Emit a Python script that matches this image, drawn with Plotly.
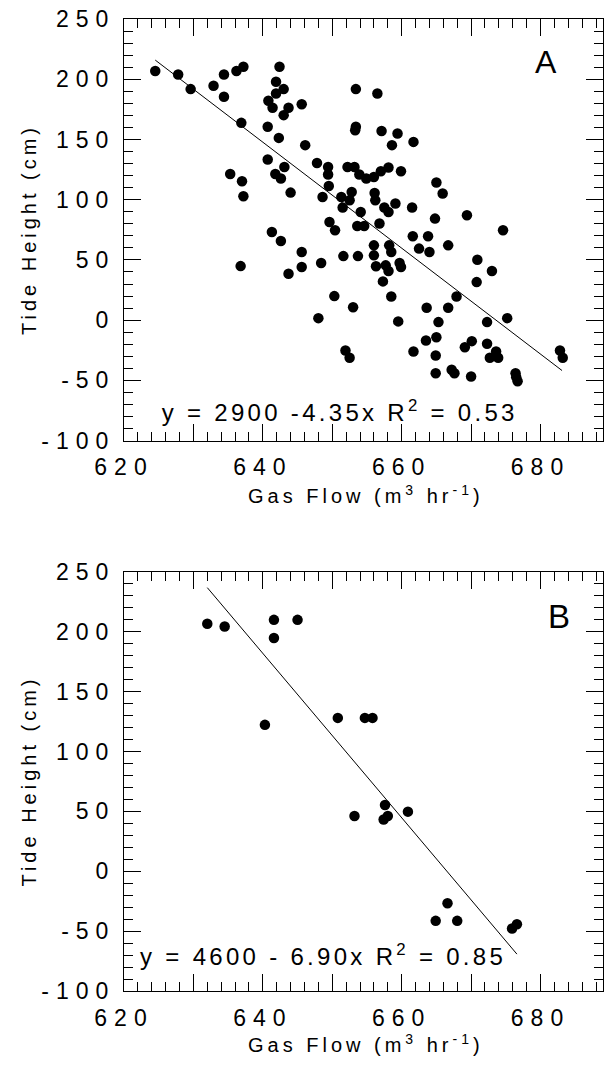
import plotly.graph_objects as go

# ---------------- data ----------------
a_x = [624.5, 627.8, 629.6, 632.9, 634.4, 634.4, 636.2, 637.2, 642.4, 641.9,
       643.0, 641.9, 640.8, 641.4, 643.7, 643.0, 645.6, 636.9, 640.7, 642.3,
       646.1, 653.4, 653.4, 653.3, 640.7, 635.3, 637.0, 637.2, 641.8, 643.1,
       642.6, 644.0, 647.8, 649.4, 649.4, 649.5, 648.6, 652.2, 653.2, 653.9,
       654.9, 651.3, 652.8, 652.5, 651.5, 654.1, 653.6, 654.6, 649.6, 650.4,
       641.3,
       656.5, 657.1, 659.4, 658.6, 661.7, 656.0, 657.0, 658.1, 659.9, 665.0,
       665.9, 656.1, 656.2, 657.5, 658.1, 659.1, 661.5, 664.8, 669.4, 656.8,
       661.6, 663.8, 674.6,
       642.6, 645.6, 636.8, 643.7, 645.6, 648.4, 651.6, 653.7, 650.3, 653.0,
       648.0, 651.9, 652.5,
       662.5, 664.0, 666.7, 656.0, 658.2, 656.0, 658.5, 656.3, 657.7, 658.1,
       659.7, 659.9, 657.3, 658.5, 670.9, 673.0, 670.8, 667.9, 663.6, 666.7,
       665.3, 659.5, 672.3, 675.2, 663.5, 665.0, 661.7, 664.9, 669.1, 670.1,
       672.3, 673.6, 672.7, 673.9, 664.9, 667.2, 667.6, 670.0, 676.4, 676.5,
       676.7, 682.8, 683.2]
a_y = [206.8, 204.0, 191.8, 194.6, 204.0, 185.4, 206.8, 210.3, 210.3, 197.9,
       191.8, 188.2, 182.1, 176.3, 176.3, 170.2, 179.3, 163.8, 160.5, 151.3,
       145.3, 191.8, 160.5, 157.7, 133.4, 121.4, 115.3, 102.9, 121.4, 127.2,
       117.6, 105.9, 130.5, 127.2, 120.9, 111.4, 102.3, 127.2, 127.2, 120.9,
       117.6, 102.3, 106.4, 99.5, 93.5, 89.8, 78.2, 78.2, 81.5, 74.6,
       73.2,
       188.2, 157.1, 155.0, 145.3, 148.0, 118.9, 123.6, 126.7, 123.6, 114.3,
       105.1, 105.6, 99.5, 93.5, 89.8, 96.8, 93.5, 84.3, 87.1, 80.2,
       69.6, 69.6, 74.6,
       65.7, 56.6, 44.9, 38.6, 44.1, 47.4, 53.2, 53.2, 20.0, 10.8,
       1.7, -25.1, -31.2,
       59.4, 56.6, 62.1, 62.1, 62.1, 53.8, 56.6, 44.7, 45.5, 40.8,
       47.4, 44.1, 32.2, 19.7, 50.2, 40.8, 31.6, 19.7, 10.3, 10.3,
       -1.6, -1.0, -1.6, 1.7, -16.8, -14.1, -26.0, -29.3, -22.4, -17.4,
       -19.6, -26.0, -31.2, -31.2, -44.0, -41.2, -44.0, -46.8, -44.0, -47.3,
       -50.7, -25.1, -31.2]

b_x = [632.0, 634.5, 641.6, 645.0, 641.6, 640.3, 650.8, 654.7, 655.8, 653.2,
       657.6, 657.4, 658.0, 660.9, 666.6, 664.9, 668.0, 675.9, 676.6]
b_y = [206.7, 204.4, 210.0, 210.0, 194.8, 122.3, 128.1, 128.1, 128.1, 46.1,
       55.3, 43.3, 46.1, 49.8, -26.7, -41.4, -41.4, -47.8, -44.2]

fit_a_x = [624.5, 683.1]
fit_a_y = [215.9, -41.8]
fit_b_x = [632.0, 676.6]
fit_b_y = [236.9, -69.2]

eq_a = "y = 2900 -4.35x R<sup>2</sup> = 0.53"
eq_b = "y = 4600 - 6.90x R<sup>2</sup> = 0.85"
panel_labels = ["A", "B"]

x_label_vals = [620, 640, 660, 680]
x_label_text = ["620", "640", "660", "680"]
x_unlabeled_major = [630, 650, 670]
y_tick_vals = [-100, -50, 0, 50, 100, 150, 200, 250]
y_tick_text = ["-100", "-50", "0", "50", "100", "150", "200", "250"]

x_title = "Gas Flow (m<sup>3</sup> hr<sup>-1</sup>)"
y_title = "Tide Height (cm)"

FONT = "Liberation Sans, Arial, Helvetica, sans-serif"
X_RANGE = [620, 689]
Y_RANGE = [-100, 250]
fig = go.Figure()

mk = dict(color="black", size=10.5)
fig.add_trace(go.Scatter(x=a_x, y=a_y, mode="markers", marker=mk, xaxis="x", yaxis="y"))
fig.add_trace(go.Scatter(x=fit_a_x, y=fit_a_y, mode="lines", line=dict(color="black", width=1), xaxis="x", yaxis="y"))
fig.add_trace(go.Scatter(x=b_x, y=b_y, mode="markers", marker=mk, xaxis="x2", yaxis="y2"))
fig.add_trace(go.Scatter(x=fit_b_x, y=fit_b_y, mode="lines", line=dict(color="black", width=1), xaxis="x2", yaxis="y2"))
# empty traces so the overlay axes carrying the long unlabelled ticks are drawn
fig.add_trace(go.Scatter(x=[], y=[], xaxis="x3", yaxis="y", hoverinfo="skip"))
fig.add_trace(go.Scatter(x=[], y=[], xaxis="x4", yaxis="y2", hoverinfo="skip"))

tickfont = dict(size=23, family=FONT, color="black")

def axis_common(rng, vals, text, anchor, mirror, minor, standoff):
    return dict(range=rng, tickmode="array", tickvals=vals, ticktext=text,
                ticks="inside", ticklen=17, tickwidth=1, tickcolor="black",
                showline=True, linecolor="black", linewidth=1, mirror=mirror,
                showgrid=False, zeroline=False, anchor=anchor, automargin=False,
                tickfont=tickfont, ticklabelstandoff=standoff,
                minor=dict(dtick=minor, ticks="inside", ticklen=9, tickwidth=1,
                           tickcolor="black", showgrid=False))

def x_overlay(overlay, anchor):
    return dict(range=X_RANGE, overlaying=overlay, anchor=anchor, tickmode="array",
                tickvals=x_unlabeled_major, ticks="inside", ticklen=17, tickwidth=1,
                tickcolor="black", showline=True, linecolor="black", linewidth=1,
                mirror="ticks", showticklabels=False, showgrid=False, zeroline=False,
                automargin=False,
                minor=dict(dtick=2, ticks="inside", ticklen=9, tickwidth=1,
                           tickcolor="black", showgrid=False))

title_font = dict(size=20, family=FONT, color="black")
eq_font = dict(size=24, family=FONT, color="black")

xa = axis_common(X_RANGE, x_label_vals, x_label_text, "y", "ticks", 2, 6)
ya = axis_common(Y_RANGE, y_tick_vals, y_tick_text, "x", "all", 10, 3)
ya["domain"] = [0.5662, 1.0]
xb = axis_common(X_RANGE, x_label_vals, x_label_text, "y2", "ticks", 2, 6)
yb = axis_common(Y_RANGE, y_tick_vals, y_tick_text, "x2", "all", 10, 3)
yb["domain"] = [0.0, 0.4311]

fig.update_layout(
    width=610, height=1085,
    margin=dict(l=124, r=7, t=19, b=94, pad=0),
    paper_bgcolor="white", plot_bgcolor="white",
    font=dict(family=FONT, color="black"),
    showlegend=False,
    xaxis=xa, yaxis=ya, xaxis2=xb, yaxis2=yb,
    xaxis3=x_overlay("x", "y"), xaxis4=x_overlay("x2", "y2"),
    annotations=[
        dict(x=651.1, y=-75.5, xref="x", yref="y", text=eq_a, showarrow=False, font=eq_font),
        dict(x=648.6, y=-69.6, xref="x2", yref="y2", text=eq_b, showarrow=False, font=eq_font),
        dict(x=680.8, y=214.1, xref="x", yref="y", text=panel_labels[0], showarrow=False,
             font=dict(size=32, family=FONT, color="black")),
        dict(x=682.6, y=213.2, xref="x2", yref="y2", text=panel_labels[1], showarrow=False,
             font=dict(size=33, family=FONT, color="black")),
        dict(x=0.506, y=0.5113, xref="paper", yref="paper", text=x_title, showarrow=False,
             font=title_font, yanchor="middle"),
        dict(x=0.506, y=-0.0545, xref="paper", yref="paper", text=x_title, showarrow=False,
             font=title_font, yanchor="middle"),
        dict(x=-0.1983, y=0.7829, xref="paper", yref="paper", text=y_title, showarrow=False,
             font=title_font, textangle=-90, xanchor="center", yanchor="middle"),
        dict(x=-0.1983, y=0.2155, xref="paper", yref="paper", text=y_title, showarrow=False,
             font=title_font, textangle=-90, xanchor="center", yanchor="middle"),
    ],
)

post = """
document.body.style.margin = '0';
function ls(sel, v){ document.querySelectorAll(sel).forEach(function(t){ t.style.letterSpacing = v; }); }
ls('.xtick text, .x2tick text, .ytick text, .y2tick text', '7px');
ls('.annotation[data-index="0"] text, .annotation[data-index="1"] text', '3.3px');
ls('.annotation[data-index="4"] text, .annotation[data-index="5"] text, .annotation[data-index="6"] text, .annotation[data-index="7"] text', '4px');
document.querySelectorAll('svg text').forEach(function(t){ if(!t.textContent.trim()) t.remove(); });
"""
fig.write_html("out.html", post_script=post, config={"displayModeBar": False})
